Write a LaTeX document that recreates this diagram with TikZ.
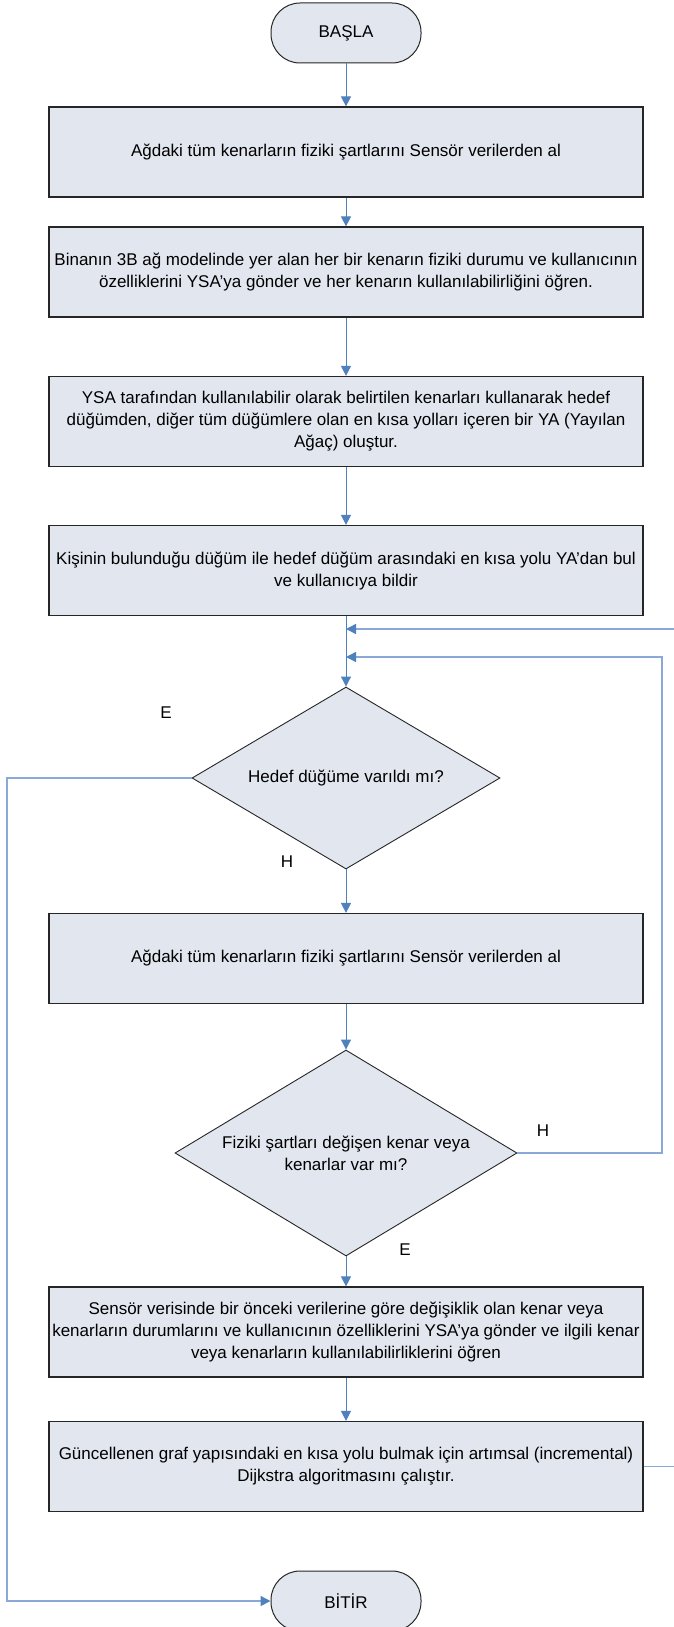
\documentclass[tikz,border=0pt]{standalone}
\usepackage{fontspec}
\setmainfont{Liberation Sans}
\usetikzlibrary{shapes.geometric,arrows.meta}
\definecolor{fillc}{HTML}{E1E6EF}
\definecolor{linec}{HTML}{4F81BD}
\definecolor{loopc}{HTML}{8AA8D8}
\begin{document}
\begin{tikzpicture}[x=1pt,y=-1pt,
  font=\fontsize{17}{22}\selectfont,
  procbox/.style={draw=black!85, line width=1.2pt, fill=fillc, minimum width=594pt, minimum height=90pt, align=center, inner sep=0pt},
  termbox/.style={draw=black!85, line width=1pt, fill=fillc, rounded corners=29pt, minimum width=150pt, minimum height=60pt, inner sep=0pt},
  decbox/.style={diamond, draw=black!85, line width=0.9pt, fill=fillc, aspect=1.7, inner sep=0pt, align=center},
  conn/.style={draw=linec, line width=1pt, -{Triangle[length=10pt,width=10pt,color=linec,fill=linec]}},
  loopconn/.style={draw=loopc, line width=1.5pt, -{Triangle[length=10pt,width=10pt,color=linec,fill=linec]}},
  lbl/.style={inner sep=0pt}]
\useasboundingbox (0,0) rectangle (674,1627);
\clip (0,0) rectangle (674,1627);
\node[termbox] (start) at (346,33) {BAŞLA};
\node[procbox] (b1) at (346,152) {Ağdaki tüm kenarların fiziki şartlarını Sensör verilerden al};
\node[procbox] (b2) at (346,272) {Binanın 3B ağ modelinde yer alan her bir kenarın fiziki durumu ve kullanıcının\\özelliklerini YSA’ya gönder ve her kenarın kullanılabilirliğini öğren.};
\node[procbox] (b3) at (346,421.5) {YSA tarafından kullanılabilir olarak belirtilen kenarları kullanarak hedef\\düğümden, diğer tüm düğümlere olan en kısa yolları içeren bir YA (Yayılan\\Ağaç) oluştur.};
\node[procbox] (b4) at (346,570.5) {Kişinin bulunduğu düğüm ile hedef düğüm arasındaki en kısa yolu YA’dan bul\\ve kullanıcıya bildir};
\node[decbox, minimum width=308pt, minimum height=182pt] (d1) at (346,778) {Hedef düğüme varıldı mı?};
\node[procbox] (b5) at (346,958.5) {Ağdaki tüm kenarların fiziki şartlarını Sensör verilerden al};
\node[decbox, minimum width=342pt, minimum height=206pt] (d2) at (346,1153) {Fiziki şartları değişen kenar veya\\kenarlar var mı?};
\node[procbox] (b7) at (346,1332) {Sensör verisinde bir önceki verilerine göre değişiklik olan kenar veya\\kenarların durumlarını ve kullanıcının özelliklerini YSA’ya gönder ve ilgili kenar\\veya kenarların kullanılabilirliklerini öğren};
\node[procbox] (b8) at (346,1466.5) {Güncellenen graf yapısındaki en kısa yolu bulmak için artımsal (incremental)\\Dijkstra algoritmasını çalıştır.};
\node[termbox] (end) at (346,1601) {BİTİR};
\node[lbl] (e1) at (166,713) {E};
\node[lbl] (h1) at (287,862) {H};
\node[lbl] (h2) at (543,1131) {H};
\node[lbl] (e2) at (405,1250) {E};
\coordinate (j1) at (346,629);
\coordinate (j2) at (346,657);
\coordinate (r1) at (700,629);
\coordinate (r2) at (662,657);
\coordinate (l1) at (7,1601);
\draw[conn] (start) -- (b1);
\draw[conn] (b1) -- (b2);
\draw[conn] (b2) -- (b3);
\draw[conn] (b3) -- (b4);
\draw[conn] (b4) -- (d1);
\draw[conn] (d1) -- (b5);
\draw[conn] (b5) -- (d2);
\draw[conn] (d2) -- (b7);
\draw[conn] (b7) -- (b8);
\draw[loopconn] (b8.east) -| (r1) -- (j1);
\draw[loopconn] (d2.east) -| (r2) -- (j2);
\draw[loopconn] (d1.west) -| (l1) -- (end.west);
\end{tikzpicture}
\end{document}
